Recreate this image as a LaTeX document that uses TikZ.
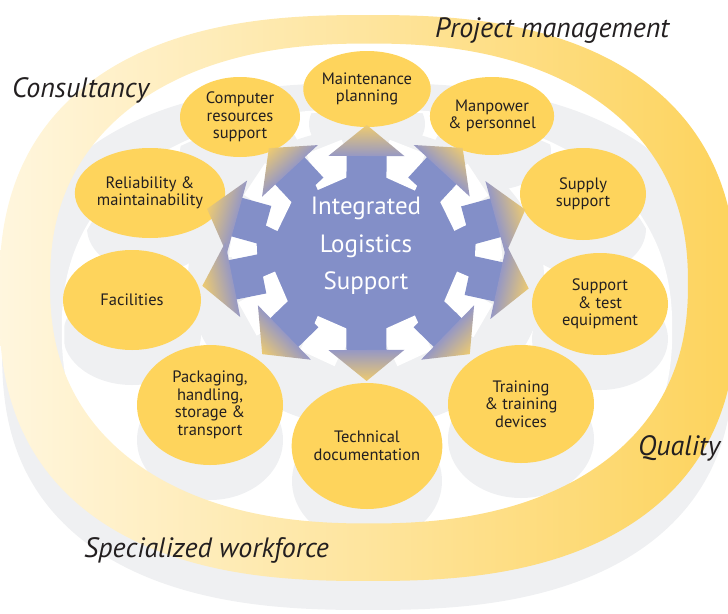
\documentclass[tikz,border=0pt]{standalone}
\usepackage{fontspec}
\setmainfont{PT Sans}
\usetikzlibrary{shapes.geometric,calc}
\definecolor{ringpale}{RGB}{255,246,222}
\definecolor{ringyel}{RGB}{253,211,92}
\definecolor{circyel}{RGB}{254,212,92}
\definecolor{shgray}{RGB}{239,240,242}
\definecolor{gearblue}{RGB}{131,143,200}
\definecolor{headblue}{RGB}{150,152,196}
\definecolor{headyel}{RGB}{238,203,112}
\definecolor{ink}{RGB}{35,31,32}
\newcommand\RingOut{plot[domain=0.5:360.5,samples=361] ({368+369*cos(\x)*pow(abs(cos(\x)),-0.2)},{298+283*sin(\x)*pow(abs(sin(\x)),-0.2)}) -- cycle}
\newcommand\RingIn{plot[domain=0.5:360.5,samples=361] ({369+319*cos(\x)*pow(abs(cos(\x)),-0.1304)},{283.5+240*sin(\x)*pow(abs(sin(\x)),-0.1304)}) -- cycle}
\newcommand\GrayOut{plot[domain=0.5:360.5,samples=361] ({368+366*cos(\x)*pow(abs(cos(\x)),-0.2)},{346.5+263.5*sin(\x)*pow(abs(sin(\x)),-0.2)}) -- cycle}
\newcommand\GrayIn{plot[domain=0.5:360.5,samples=361] ({367+304*cos(\x)*pow(abs(cos(\x)),-0.1304)},{330+220*sin(\x)*pow(abs(sin(\x)),-0.1304)}) -- cycle}
\def\circlist{mp/367/89/58/38/{Maintenance\\planning},cr/240/117/60/40/{Computer\\resources\\support},mn/492/116/59/39/{Manpower\\\& personnel},rm/150/193/63/45/{Reliability \&\\maintainability},ss/583/194/63/46/{Supply\\support},fa/132/300/69/50/{Facilities},st/600/304/68/51/{Support\\\& test\\equipment},pk/210/405/73/60/{Packaging,\\handling,\\storage \&\\transport},tr/521/404/73/59/{Training\\\& training\\devices},td/367/446/75/63/{Technical\\documentation}}
\newcommand\arrowgeom[1]{%
  \path let \p1=($(#1.center)-(g.center)$) in \pgfextra{\pgfmathsetmacro\angtmp{atan2(\y1,\x1)}\xdef\ang{\angtmp}};
  \pgfmathsetmacro\cs{cos(\ang)}%
  \pgfmathsetmacro\sn{sin(\ang)}%
  \pgfmathsetmacro\dtip{128/sqrt((0.756*\cs)^2+(\sn)^2)}%
  \pgfmathsetmacro\dedge{88/sqrt((0.7097*\cs)^2+(\sn)^2)}%
  \pgfmathsetmacro\hb{\dtip-31}%
  \pgfmathsetmacro\sb{\dedge-16}%
  \pgfmathsetmacro\del{atan(39/\dedge)}%
  \pgfmathsetmacro\bi{\dedge-11}%
  \pgfmathsetmacro\bo{\dedge+14}%
}
\begin{document}
\begin{tikzpicture}[x=1pt,y=-1pt,
  circ/.style={ellipse, fill=circyel, inner sep=0pt, align=center, text=ink,
    font=\fontsize{16.5}{17.5}\selectfont},
  lab/.style={font=\itshape\fontsize{28}{30}\selectfont, text=ink, inner sep=0pt, anchor=base west},
  geartext/.style={text=white, align=center, font=\fontsize{25}{37.5}\selectfont}]
\useasboundingbox (0,0) rectangle (728,613);
\clip (0,0) rectangle (728,613);
% shadow layer
\fill[shgray, even odd rule] \GrayOut \GrayIn;
\fill[shgray] (366,278) ellipse [x radius=178pt, y radius=150pt];
\foreach \nm/\cx/\cy/\rx/\ry/\lbl in \circlist {
  \fill[shgray] (\cx,\cy+35) ellipse [x radius=\rx pt, y radius=\ry pt];
}
\draw[white, line width=2.5pt] \GrayIn;
% yellow ring
\shade[left color=ringpale, right color=ringyel, even odd rule] \RingOut \RingIn;
% circles
\foreach \nm/\cx/\cy/\rx/\ry/\lbl in \circlist {
  \node[circ, minimum width=2*\rx pt, minimum height=2*\ry pt] (\nm) at (\cx,\cy) {\lbl};
}
% gear
\node[ellipse, fill=gearblue, minimum width=248pt, minimum height=176pt, inner sep=0pt] (g) at (366,253) {};
\foreach \nm in {mp,cr,mn,rm,ss,fa,st,pk,tr,td}{
  \arrowgeom{\nm}
  \begin{scope}[x=1pt,y=1pt,transform canvas={shift={(g.center)},rotate=\ang}]
    \fill[white,rotate=\del] (\bi,-19) rectangle (\bo,19);
    \fill[white,rotate=-\del] (\bi,-19) rectangle (\bo,19);
  \end{scope}
}
\foreach \nm in {mp,cr,mn,rm,ss,fa,st,pk,tr,td}{
  \arrowgeom{\nm}
  \begin{scope}[x=1pt,y=1pt,transform canvas={shift={(g.center)},rotate=\ang}]
    \fill[gearblue] (\sb,-20) rectangle (\hb+0.5,20);
    \shade[left color=headblue,right color=headyel] (\hb,-38) -- (\dtip,0) -- (\hb,38) -- cycle;
  \end{scope}
}
\node[geartext] (glab) at ([yshift=7pt]g.center) {Integrated\\Logistics\\Support};
% outer labels
\node[lab] (consult) at (12,97) {Consultancy};
\node[lab] (pm) at (435,37) {Project management};
\node[lab] (qual) at (638,455) {Quality};
\node[lab] (spec) at (84,557) {Specialized workforce};
\end{tikzpicture}
\end{document}
